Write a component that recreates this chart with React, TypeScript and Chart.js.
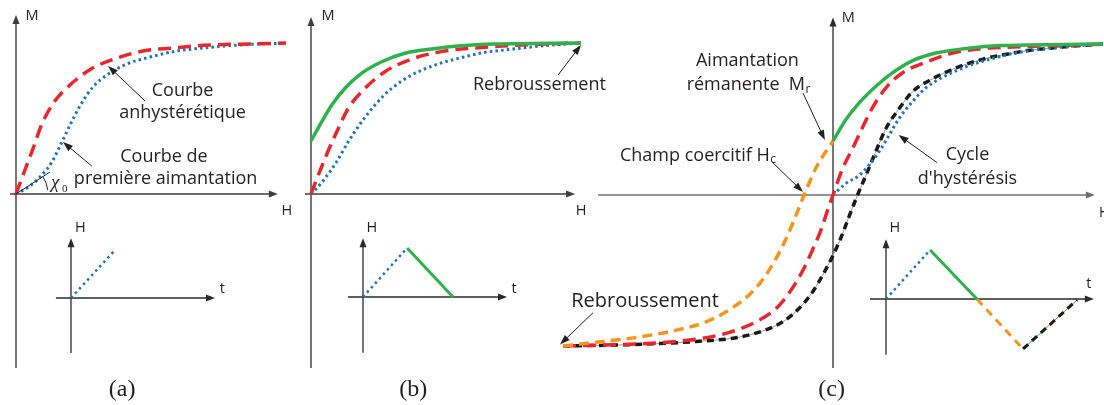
import React, { useEffect, useRef } from "react";
import { Chart, registerables } from "chart.js";

Chart.register(...registerables);

const W = 1104;
const HGT = 405;

// ---------------- data (H in field units, M relative to Ms) ----------------
// Panel (a)
const aFirstH = [0, 0.52, 0.96, 1.33, 1.63, 2.0, 2.37, 2.85, 3.37, 4.11, 4.96, 5.96, 6.93, 8.3, 10];
const aFirstM = [0, 0.053, 0.126, 0.212, 0.318, 0.457, 0.583, 0.709, 0.788, 0.861, 0.907, 0.947, 0.967, 0.987, 1.0];
const aAnhystH = [0, 0.33, 0.63, 0.96, 1.44, 2.0, 2.78, 3.74, 4.7, 5.81, 7.19, 8.67, 10];
const aAnhystM = [0, 0.159, 0.3, 0.464, 0.616, 0.722, 0.828, 0.9, 0.947, 0.967, 0.987, 0.993, 1.0];

// Panel (b)
const bFirstH = [0, 0.15, 0.52, 0.95, 1.38, 1.88, 2.37, 2.99, 3.73, 4.59, 5.46, 6.44, 7.19, 8.5, 10];
const bFirstM = [0, 0.026, 0.104, 0.214, 0.346, 0.479, 0.589, 0.7, 0.788, 0.854, 0.898, 0.938, 0.954, 0.98, 1.0];
const bAnhystH = [0, 0.15, 0.52, 0.95, 1.38, 2.0, 2.74, 3.73, 4.96, 6.2, 7.06, 8.5, 10];
const bAnhystM = [0, 0.07, 0.236, 0.41, 0.567, 0.7, 0.81, 0.894, 0.947, 0.969, 0.98, 0.992, 1.0];
const bDescH = [0, 0.4, 0.77, 1.26, 1.88, 2.62, 3.48, 4.47, 5.58, 6.81, 10];
const bDescM = [0.351, 0.479, 0.589, 0.7, 0.8, 0.876, 0.932, 0.96, 0.982, 0.993, 1.0];

// Panel (c)
const cFirstH = [0, 0.48, 0.97, 1.34, 1.72, 2.09, 2.46, 2.95, 3.44, 4.06, 4.93, 5.92, 6.9, 8.5, 10];
const cFirstM = [0, 0.077, 0.13, 0.2, 0.29, 0.4, 0.51, 0.62, 0.71, 0.78, 0.85, 0.905, 0.945, 0.98, 1.0];
const cAnhystH = [-10, -7.79, -6.18, -5.07, -3.84, -2.85, -2.04, -1.48, -1.06, -0.75, -0.44, -0.2, 0, 0.36, 0.73, 1.1, 1.47, 1.96, 2.58, 3.44, 4.43, 5.54, 6.65, 8.3, 10];
const cAnhystM = [-1.0, -0.99, -0.975, -0.955, -0.91, -0.84, -0.74, -0.61, -0.48, -0.36, -0.23, -0.1, 0, 0.177, 0.31, 0.45, 0.58, 0.71, 0.81, 0.88, 0.94, 0.97, 0.98, 0.99, 1.0];
const cDescH = [0, 0.48, 0.97, 1.59, 2.21, 2.95, 3.81, 4.93, 6.16, 7.15, 10];
const cDescM = [0.358, 0.5, 0.61, 0.72, 0.81, 0.89, 0.94, 0.97, 0.99, 0.993, 1.0];
const cDescNegH = [-10, -8.76, -7.17, -5.93, -4.7, -3.84, -3.1, -2.6, -2.11, -1.74, -1.36, -1.07, -0.6, 0];
const cDescNegM = [-1.0, -0.975, -0.94, -0.9, -0.84, -0.76, -0.66, -0.56, -0.42, -0.29, -0.13, 0, 0.19, 0.358];
const cAscH = [-10, -8.41, -6.56, -5.07, -3.59, -2.6, -1.86, -1.25, -0.75, -0.38, 0, 0.3, 0.6, 0.91, 1.22, 1.59, 1.96, 2.46, 2.95, 3.69, 4.68, 5.67, 6.66, 7.15, 8.5, 10];
const cAscM = [-1.0, -0.995, -0.985, -0.97, -0.945, -0.9, -0.84, -0.75, -0.64, -0.53, -0.4, -0.28, -0.14, 0, 0.13, 0.29, 0.44, 0.575, 0.685, 0.77, 0.85, 0.905, 0.94, 0.955, 0.98, 1.0];

// Insets: excitation H(t)
const atRiseT = [0, 1.96];
const atRiseH = [0, 0.98];
const btRiseT = [0, 1.96];
const btRiseH = [0, 1.0];
const btFallT = [1.96, 4.0];
const btFallH = [1.0, 0];
const ctRiseT = [0, 1.96];
const ctRiseH = [0, 1.0];
const ctFallT = [1.96, 4.04];
const ctFallH = [1.0, 0];
const ctFallNegT = [4.04, 6.09];
const ctFallNegH = [0, -1.02];
const ctRiseBackT = [6.09, 8.49];
const ctRiseBackH = [-1.02, -0.02];

// ---------------- layout (pixel placement of each panel's axes) ----------------
const PX_H = 27;
const PX_M = 151;
const PX_T = 22.5;
const PX_HT = 49;

const ORIGINS: Record<string, { ox: number; oy: number; kx: number; ky: number }> = {
  a: { ox: 16, oy: 194, kx: PX_H, ky: PX_M },
  b: { ox: 311, oy: 194, kx: PX_H, ky: PX_M },
  c: { ox: 833, oy: 195, kx: PX_H, ky: PX_M },
  at: { ox: 71, oy: 298, kx: PX_T, ky: PX_HT },
  bt: { ox: 363, oy: 297, kx: PX_T, ky: PX_HT },
  ct: { ox: 886, oy: 299, kx: PX_T, ky: PX_HT },
};

const scales: Record<string, any> = {};
Object.keys(ORIGINS).forEach((k) => {
  const o = ORIGINS[k];
  scales["x" + k] = {
    type: "linear",
    axis: "x",
    display: false,
    bounds: "data",
    min: -o.ox / o.kx,
    max: (W - o.ox) / o.kx,
  };
  scales["y" + k] = {
    type: "linear",
    axis: "y",
    display: false,
    bounds: "data",
    min: -(HGT - o.oy) / o.ky,
    max: o.oy / o.ky,
  };
});

// ---------------- styles ----------------
const RED = { borderColor: "#e8262b", borderWidth: 3.5, borderDash: [13, 7] };
const BLUE = { borderColor: "#1b75bb", borderWidth: 3, borderDash: [2.5, 3.2] };
const GREEN = { borderColor: "#2eb24b", borderWidth: 3.5 };
const ORANGE = { borderColor: "#f7941d", borderWidth: 3.5, borderDash: [10, 6] };
const BLACK = { borderColor: "#1a1a1a", borderWidth: 3.5, borderDash: [7, 5] };
const GRAYTHIN = { borderColor: "#9a9a9a", borderWidth: 1 };
const GREENTHIN = { borderColor: "#2eb24b", borderWidth: 1 };

const pts = (xs: number[], ys: number[]) => xs.map((x, i) => ({ x, y: ys[i] }));
const ds = (label: string, xs: number[], ys: number[], p: string, style: any, smooth = true) => ({
  label,
  data: pts(xs, ys),
  xAxisID: "x" + p,
  yAxisID: "y" + p,
  pointRadius: 0,
  fill: false,
  cubicInterpolationMode: smooth ? "monotone" : "default",
  tension: 0,
  ...style,
});

// listed top-most first
const datasets = [
  // panel (a)
  ds("a anhyst", aAnhystH, aAnhystM, "a", RED),
  ds("a first", aFirstH, aFirstM, "a", BLUE),
  // panel (b)
  ds("b desc", bDescH, bDescM, "b", GREEN),
  ds("b anhyst", bAnhystH, bAnhystM, "b", RED),
  ds("b first", bFirstH, bFirstM, "b", BLUE),
  // panel (c)
  ds("c desc", cDescH, cDescM, "c", GREEN),
  ds("c descneg", cDescNegH, cDescNegM, "c", ORANGE),
  ds("c anhyst", cAnhystH, cAnhystM, "c", RED),
  ds("c first", cFirstH, cFirstM, "c", BLUE),
  ds("c asc", cAscH, cAscM, "c", BLACK),
  ds("c asc thin", cAscH, cAscM, "c", GRAYTHIN),
  // insets
  ds("at rise", atRiseT, atRiseH, "at", { ...BLUE, borderWidth: 2.5, borderDash: [2.5, 3.5] }, false),
  ds("bt rise", btRiseT, btRiseH, "bt", { ...BLUE, borderWidth: 2.5, borderDash: [2.5, 3.5] }, false),
  ds("bt fall", btFallT, btFallH, "bt", { ...GREEN, borderWidth: 3 }, false),
  ds("ct rise", ctRiseT, ctRiseH, "ct", { ...BLUE, borderWidth: 2.5, borderDash: [2.5, 3.5] }, false),
  ds("ct fall", ctFallT, ctFallH, "ct", { ...GREEN, borderWidth: 3 }, false),
  ds("ct fallneg", ctFallNegT, ctFallNegH, "ct", { ...ORANGE, borderWidth: 3, borderDash: [8, 6] }, false),
  ds("ct riseback", ctRiseBackT, ctRiseBackH, "ct", { ...BLACK, borderWidth: 3, borderDash: [7, 5] }, false),
  ds("ct riseback thin", ctRiseBackT, ctRiseBackH, "ct", GREENTHIN, false),
];

// ---------------- annotations ----------------
const AXES = [
  { p: "a", dir: "y", from: -1.152, to: 1.185, color: "#3c3c3c", w: 1.4 },
  { p: "a", dir: "x", from: -0.22, to: 9.7, color: "#3c3c3c", w: 1.4 },
  { p: "b", dir: "y", from: -1.152, to: 1.172, color: "#3c3c3c", w: 1.4 },
  { p: "b", dir: "x", from: -0.22, to: 9.78, color: "#3c3c3c", w: 1.4 },
  { p: "c", dir: "y", from: -1.146, to: 1.175, color: "#2a2a2a", w: 1.3 },
  { p: "c", dir: "x", from: -8.7, to: 9.7, color: "#6e6e6e", w: 1.7 },
  { p: "at", dir: "y", from: -1.12, to: 1.22, color: "#2a2a2a", w: 1.3 },
  { p: "at", dir: "x", from: -0.67, to: 6.4, color: "#2a2a2a", w: 1.3 },
  { p: "bt", dir: "y", from: -1.14, to: 1.2, color: "#2a2a2a", w: 1.3 },
  { p: "bt", dir: "x", from: -0.67, to: 6.4, color: "#2a2a2a", w: 1.3 },
  { p: "ct", dir: "y", from: -1.14, to: 1.22, color: "#2a2a2a", w: 1.3 },
  { p: "ct", dir: "x", from: -0.71, to: 9.24, color: "#2a2a2a", w: 1.3 },
];

const F18 = '18px "Open Sans"';
const F20 = '20px "Open Sans"';
const F14 = '14.5px "Open Sans"';
const SERIF = '24px "Liberation Serif"';

const LABELS: { p: string; x: number; y: number; t: string; f: string; al?: CanvasTextAlign; sub?: string }[] = [
  { p: "a", x: 6.17, y: 0.646, t: "Courbe", f: F18 },
  { p: "a", x: 6.17, y: 0.501, t: "anhystérétique", f: F18 },
  { p: "a", x: 5.48, y: 0.215, t: "Courbe de", f: F18 },
  { p: "a", x: 5.54, y: 0.066, t: "première aimantation", f: F18 },
  { p: "a", x: 0.59, y: 1.15, t: "M", f: F14 },
  { p: "a", x: 10.03, y: -0.139, t: "H", f: F14 },
  { p: "a", x: 3.93, y: -1.34, t: "(a)", f: SERIF },
  { p: "at", x: 0.42, y: 1.35, t: "H", f: F14 },
  { p: "at", x: 6.73, y: 0.096, t: "t", f: F14 },
  { p: "b", x: 8.46, y: 0.689, t: "Rebroussement", f: F18 },
  { p: "b", x: 0.63, y: 1.15, t: "M", f: F14 },
  { p: "b", x: 10.0, y: -0.139, t: "H", f: F14 },
  { p: "b", x: 3.79, y: -1.34, t: "(b)", f: SERIF },
  { p: "bt", x: 0.39, y: 1.33, t: "H", f: F14 },
  { p: "bt", x: 6.71, y: 0.076, t: "t", f: F14 },
  { p: "c", x: -3.17, y: 0.854, t: "Aimantation", f: F18 },
  { p: "c", x: -5.42, y: 0.695, t: "rémanente  M", f: F18, al: "left", sub: "r" },
  { p: "c", x: -7.89, y: 0.227, t: "Champ coercitif H", f: F18, al: "left", sub: "c" },
  { p: "c", x: 4.98, y: 0.232, t: "Cycle", f: F18 },
  { p: "c", x: 4.98, y: 0.073, t: "d'hystérésis", f: F18 },
  { p: "c", x: -6.96, y: -0.74, t: "Rebroussement", f: F20 },
  { p: "c", x: 0.57, y: 1.148, t: "M", f: F14 },
  { p: "c", x: 10.05, y: -0.144, t: "H", f: F14 },
  { p: "c", x: -0.05, y: -1.33, t: "(c)", f: SERIF },
  { p: "ct", x: 0.39, y: 1.37, t: "H", f: F14 },
  { p: "ct", x: 9.02, y: 0.218, t: "t", f: F14 },
];

const POINTERS = [
  { p: "a", x1: 4.78, y1: 0.616, x2: 3.41, y2: 0.848 },
  { p: "a", x1: 2.81, y1: 0.185, x2: 1.74, y2: 0.344 },
  { p: "b", x1: 9.15, y1: 0.788, x2: 10.0, y2: 0.987 },
  { p: "c", x1: -1.11, y1: 0.675, x2: -0.3, y2: 0.364 },
  { p: "c", x1: -2.22, y1: 0.212, x2: -1.11, y2: 0.02 },
  { p: "c", x1: 3.85, y1: 0.215, x2: 2.43, y2: 0.397 },
  { p: "c", x1: -8.89, y1: -0.78, x2: -10.11, y2: -0.99 },
];

// initial susceptibility tangent (panel a)
const chiTangentH = [0, 1.26];
const chiTangentM = [0, 0.146];

const TEXT = "#231f20";

function arrowHead(ctx: CanvasRenderingContext2D, x1: number, y1: number, x2: number, y2: number, len: number, half: number) {
  const a = Math.atan2(y2 - y1, x2 - x1);
  const bx = x2 - len * Math.cos(a);
  const by = y2 - len * Math.sin(a);
  ctx.beginPath();
  ctx.moveTo(x2, y2);
  ctx.lineTo(bx + half * Math.sin(a), by - half * Math.cos(a));
  ctx.lineTo(bx - half * Math.sin(a), by + half * Math.cos(a));
  ctx.closePath();
  ctx.fill();
}

const px = (chart: any, p: string, x: number, y: number) => [
  chart.scales["x" + p].getPixelForValue(x),
  chart.scales["y" + p].getPixelForValue(y),
];

const diagramPlugin = {
  id: "diagram",
  beforeDatasetsDraw(chart: any) {
    const ctx: CanvasRenderingContext2D = chart.ctx;
    ctx.save();
    AXES.forEach((a) => {
      const [x1, y1] = a.dir === "x" ? px(chart, a.p, a.from, 0) : px(chart, a.p, 0, a.from);
      const [x2, y2] = a.dir === "x" ? px(chart, a.p, a.to, 0) : px(chart, a.p, 0, a.to);
      ctx.strokeStyle = a.color;
      ctx.fillStyle = a.color;
      ctx.lineWidth = a.w;
      ctx.setLineDash([]);
      ctx.beginPath();
      ctx.moveTo(x1, y1);
      ctx.lineTo(x2 - (a.dir === "x" ? 4 : 0), y2 + (a.dir === "y" ? 4 : 0));
      ctx.stroke();
      arrowHead(ctx, x1, y1, x2, y2, 9, 3.5);
    });
    ctx.restore();
  },
  afterDatasetsDraw(chart: any) {
    const ctx: CanvasRenderingContext2D = chart.ctx;
    ctx.save();
    ctx.fillStyle = TEXT;
    ctx.strokeStyle = TEXT;
    ctx.textBaseline = "alphabetic";
    LABELS.forEach((l) => {
      const [x, y] = px(chart, l.p, l.x, l.y);
      ctx.font = l.f;
      ctx.textAlign = l.al || "center";
      ctx.fillText(l.t, x, y);
      if (l.sub) {
        const w = ctx.measureText(l.t).width;
        ctx.font = '12px "Open Sans"';
        ctx.textAlign = "left";
        ctx.fillText(l.sub, x + w + 0.5, y + 2.5);
      }
    });
    // pointer arrows
    ctx.lineWidth = 1;
    ctx.setLineDash([]);
    POINTERS.forEach((a) => {
      const [x1, y1] = px(chart, a.p, a.x1, a.y1);
      const [x2, y2] = px(chart, a.p, a.x2, a.y2);
      const ang = Math.atan2(y2 - y1, x2 - x1);
      ctx.beginPath();
      ctx.moveTo(x1, y1);
      ctx.lineTo(x2 - 6 * Math.cos(ang), y2 - 6 * Math.sin(ang));
      ctx.stroke();
      arrowHead(ctx, x1, y1, x2, y2, 10, 3.5);
    });
    // chi_0 tangent and arc
    const [ox, oy] = px(chart, "a", chiTangentH[0], chiTangentM[0]);
    const [tx, ty] = px(chart, "a", chiTangentH[1], chiTangentM[1]);
    ctx.beginPath();
    ctx.moveTo(ox, oy);
    ctx.lineTo(tx, ty);
    ctx.stroke();
    const ang = Math.atan2(ty - oy, tx - ox);
    ctx.beginPath();
    ctx.arc(ox, oy, 32, ang, -0.12, false);
    ctx.stroke();
    ctx.font = 'italic 19px "Liberation Serif"';
    ctx.textAlign = "left";
    ctx.fillText("χ", ox + 35, oy - 6);
    ctx.font = '11px "Liberation Serif"';
    ctx.fillText("0", ox + 46, oy - 2);
    ctx.restore();
  },
};

export default function App() {
  const ref = useRef<HTMLCanvasElement>(null);
  useEffect(() => {
    const chart = new Chart(ref.current as HTMLCanvasElement, {
      type: "line",
      data: { datasets: datasets as any },
      options: {
        animation: false,
        responsive: false,
        devicePixelRatio: 1,
        events: [],
        layout: { padding: 0 },
        plugins: { legend: { display: false }, tooltip: { enabled: false } },
        scales,
      } as any,
      plugins: [diagramPlugin],
    });
    return () => chart.destroy();
  }, []);
  return (
    <div style={{ position: "absolute", left: 0, top: 0, width: W, height: HGT, background: "#fff" }}>
      <canvas ref={ref} width={W} height={HGT} style={{ display: "block", width: W, height: HGT }} />
    </div>
  );
}
